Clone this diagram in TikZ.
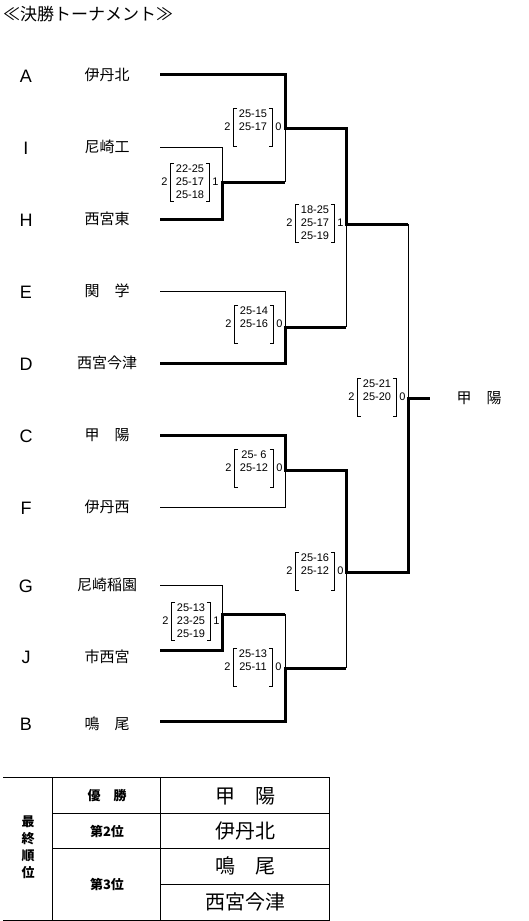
\documentclass[tikz,border=0pt]{standalone}
\usepackage{fontspec}
\setmainfont{Liberation Sans}
\newfontfamily\jp{Noto Sans CJK JP}
\newcommand\vbscore[6]{%
  \node[sc] (#1) at (#2,#3) {#5};
  \draw[brk] ([xshift=3.5pt]#1.north west) -- (#1.north west) -- (#1.south west) -- ([xshift=3.5pt]#1.south west);
  \draw[brk] ([xshift=-3.5pt]#1.north east) -- (#1.north east) -- (#1.south east) -- ([xshift=-3.5pt]#1.south east);
  \node[scn, anchor=east] (#1l) at ([xshift=-3pt]#1.west) {#4};
  \node[scn, anchor=west] (#1r) at ([xshift=3pt]#1.east) {#6};
}
\begin{document}
\begin{tikzpicture}[x=1pt,y=-1pt,
  win/.style={line width=3pt},
  lose/.style={line width=0.9pt},
  letter/.style={font=\fontsize{18}{20}\selectfont},
  team/.style={font=\jp\fontsize{15}{17}\selectfont},
  sc/.style={font=\fontsize{11}{13}\selectfont, inner xsep=5pt, inner ysep=2pt, align=center},
  scn/.style={font=\fontsize{11}{13}\selectfont, inner sep=0pt},
  brk/.style={line width=0.8pt},
  tbl/.style={line width=0.9pt},
  hd/.style={font=\jp\bfseries\fontsize{13}{17}\selectfont, align=center},
  res/.style={font=\jp\fontsize{20}{22}\selectfont},
]
\useasboundingbox (0,0) rectangle (528,921);

\node[anchor=west, font=\jp\fontsize{17}{19}\selectfont, inner sep=0pt] (title) at (3,14) {≪決勝トーナメント≫};

% teams
\node[letter] (lA) at (26,76) {A};  \node[team] (nA) at (107,75) {伊丹北};  \coordinate (tA) at (160,74);
\node[letter] (lI) at (26,148) {I}; \node[team] (nI) at (107,147) {尼崎工};  \coordinate (tI) at (160,147);
\node[letter] (lH) at (26,220) {H}; \node[team] (nH) at (107,219) {西宮東};  \coordinate (tH) at (160,219);
\node[letter] (lE) at (26,292) {E}; \node[team] (nE) at (107,291) {関　学};  \coordinate (tE) at (160,291);
\node[letter] (lD) at (26,364) {D}; \node[team] (nD) at (107,363) {西宮今津}; \coordinate (tD) at (160,363);
\node[letter] (lC) at (26,436) {C}; \node[team] (nC) at (107,435) {甲　陽};  \coordinate (tC) at (160,435);
\node[letter] (lF) at (26,508) {F}; \node[team] (nF) at (107,507) {伊丹西};  \coordinate (tF) at (160,507);
\node[letter] (lG) at (26,586) {G}; \node[team] (nG) at (107,585) {尼崎稲園}; \coordinate (tG) at (160,585);
\node[letter] (lJ) at (26,657) {J}; \node[team] (nJ) at (107,657) {市西宮};  \coordinate (tJ) at (160,650);
\node[letter] (lB) at (26,724) {B}; \node[team] (nB) at (107,724) {鳴　尾};  \coordinate (tB) at (160,721);

% junctions
\coordinate (jA) at (285,128);
\coordinate (jIH) at (222,182);
\coordinate (jED) at (285,327);
\coordinate (s1) at (346,224);
\coordinate (f1) at (408,224);
\coordinate (jCF) at (285,470);
\coordinate (jGJ) at (222,614);
\coordinate (jJB) at (285,668);
\coordinate (s2) at (346,572);
\coordinate (f2) at (408,572);
\coordinate (fin) at (408,398);
\coordinate (cend) at (430,398);
\node[team] (champ) at (479,398) {甲　陽};

% losing lines
\draw[lose] (tI) -| (jIH);
\draw[lose] (jIH -| jA) -- (jA);
\draw[lose] (tE) -| (jED);
\draw[lose] (s1) -- (jED -| s1);
\draw[lose] (tF) -| (jCF);
\draw[lose] (tG) -| (jGJ);
\draw[lose] (jGJ -| jJB) -- (jJB);
\draw[lose] (s2) -- (jJB -| s2);
\draw[lose] (f1) -- (fin);

% winning lines
\draw[win] (tA) -| (jA) -| (s1) -- (f1);
\draw[win] (tH) -| (jIH) -- (jIH -| jA);
\draw[win] (tD) -| (jED) -- (jED -| s1);
\draw[win] (tC) -| (jCF) -| (s2) -- (f2) -- (fin) -- (cend);
\draw[win] (tJ) -| (jGJ) -- (jGJ -| jJB);
\draw[win] (tB) -| (jJB) -- (jJB -| s2);

% scores
\vbscore{sc1}{253}{127}{2}{25-15\\25-17\\\phantom{0}}{0}
\vbscore{sc2}{190}{182}{2}{22-25\\25-17\\25-18}{1}
\vbscore{sc3}{315}{223}{2}{18-25\\25-17\\25-19}{1}
\vbscore{sc4}{254}{324}{2}{25-14\\25-16\\\phantom{0}}{0}
\vbscore{sc5}{377}{397}{2}{25-21\\25-20\\\phantom{0}}{0}
\vbscore{sc6}{254}{468}{2}{25-~6\\25-12\\\phantom{0}}{0}
\vbscore{sc7}{191}{621}{2}{25-13\\23-25\\25-19}{1}
\vbscore{sc8}{315}{571}{2}{25-16\\25-12\\\phantom{0}}{0}
\vbscore{sc9}{253}{667}{2}{25-13\\25-11\\\phantom{0}}{0}

% final standings table
\draw[tbl] (3,777) -- (330,777);
\draw[tbl] (52,813) -- (330,813);
\draw[tbl] (52,848) -- (330,848);
\draw[tbl] (160,884) -- (330,884);
\draw[tbl] (3,920) -- (330,920);
\draw[tbl] (52,777) -- (52,920);
\draw[tbl] (160,777) -- (160,920);
\draw[tbl] (329,777) -- (329,920);

\node[hd] (vt) at (28,847) {最\\終\\順\\位};
\node[hd] (h1) at (107,796) {優　勝};
\node[hd] (h2) at (107,831) {第2位};
\node[hd] (h3) at (107,884) {第3位};
\node[res] (r1) at (245,796) {甲　陽};
\node[res] (r2) at (245,831) {伊丹北};
\node[res] (r3) at (245,866) {鳴　尾};
\node[res] (r4) at (245,902) {西宮今津};
\end{tikzpicture}
\end{document}
